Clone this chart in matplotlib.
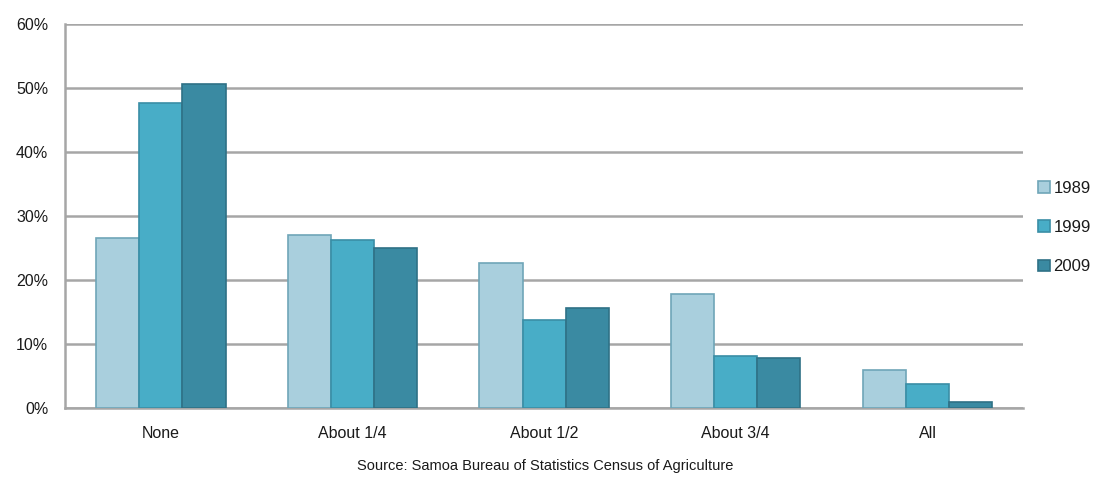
import numpy as np
from matplotlib import pyplot as plt
from matplotlib.ticker import FuncFormatter

plt.rcParams['font.family'] = ['Liberation Sans', 'DejaVu Sans']

categories = ['None', 'About 1/4', 'About 1/2', 'About 3/4', 'All']
years = ['1989', '1999', '2009']
share_1989 = [26.5, 27.1, 22.7, 17.8, 5.9]
share_1999 = [47.6, 26.3, 13.8, 8.1, 3.8]
share_2009 = [50.6, 25.0, 15.7, 7.8, 1.0]

colors = ['#a9cfdd', '#48adc7', '#3a8aa2']
edges = ['#6fa5b8', '#3a8ea6', '#2f7186']

fig = plt.figure(figsize=(11.13, 4.79), dpi=100)
ax = fig.add_axes([0.0584, 0.148, 0.861, 0.802])

x = np.arange(len(categories))
w = 0.225
for i, (vals, yr) in enumerate(zip([share_1989, share_1999, share_2009], years)):
    ax.bar(x + (i - 1) * w, vals, width=w, color=colors[i], edgecolor=edges[i],
           linewidth=1.2, label=yr, zorder=3)

ax.set_xlim(-0.5, 4.5)
ax.set_ylim(0, 60)
ax.set_yticks(np.arange(0, 61, 10))
ax.yaxis.set_major_formatter(FuncFormatter(lambda v, p: '%d%%' % v))
ax.set_xticks(x)
ax.set_xticklabels(categories)
ax.tick_params(axis='both', length=0, labelsize=11.5, colors='#1a1a1a')
ax.tick_params(axis='x', pad=13)
ax.tick_params(axis='y', pad=12)

ax.grid(axis='y', color='#a6a6a6', linewidth=1.8, zorder=0)
for s in ['top', 'right']:
    ax.spines[s].set_visible(False)
for s in ['left', 'bottom']:
    ax.spines[s].set_color('#a6a6a6')
    ax.spines[s].set_linewidth(1.8)

leg = ax.legend(loc='center left', bbox_to_anchor=(1.0, 0.47), frameon=False,
                fontsize=12, handlelength=0.7, handleheight=0.7,
                handletextpad=0.2, labelspacing=1.45)
for t in leg.get_texts():
    t.set_color('#1a1a1a')

fig.text(0.49, 0.012, 'Source: Samoa Bureau of Statistics Census of Agriculture',
         ha='center', va='bottom', fontsize=10.5, color='#1a1a1a')

fig.savefig('out.png', dpi=100)
